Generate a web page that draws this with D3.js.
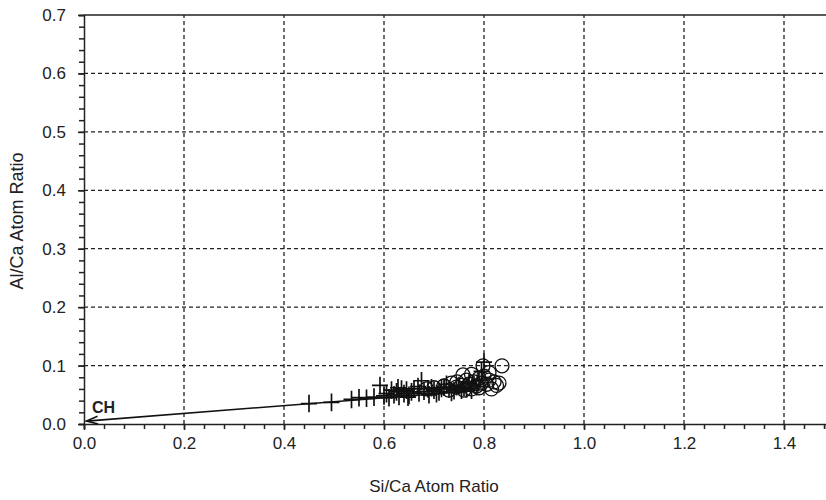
<!DOCTYPE html>
<html><head><meta charset="utf-8">
<script src="https://cdn.jsdelivr.net/npm/d3@7"></script>
<style>body{margin:0;background:#fff}svg{display:block}text{font-family:"Liberation Sans",Arial,sans-serif;fill:#222}</style>
</head><body><svg id="c" width="826" height="500"></svg>
<script>
const xTicks=[0,0.2,0.4,0.6,0.8,1.0,1.2,1.4];
const yTicks=[0,0.1,0.2,0.3,0.4,0.5,0.6,0.7];
const crossX=[0.45,0.495,0.535,0.55,0.565,0.58,0.592,0.60,0.61,0.62,0.625,0.63,0.64,0.645,0.65,0.655,0.66,0.67,0.675,0.68,0.69,0.695,0.70,0.71,0.72,0.73,0.74,0.75,0.76,0.77,0.78,0.79,0.80,0.795,0.765,0.785,0.635,0.605,0.615,0.725,0.628,0.648,0.668,0.688,0.705,0.715,0.735,0.755,0.745,0.775];
const crossY=[0.035,0.037,0.042,0.045,0.044,0.046,0.066,0.048,0.045,0.050,0.055,0.047,0.052,0.058,0.049,0.055,0.060,0.053,0.074,0.056,0.050,0.062,0.058,0.055,0.063,0.060,0.057,0.066,0.062,0.070,0.068,0.075,0.106,0.090,0.060,0.064,0.060,0.052,0.058,0.068,0.062,0.046,0.064,0.060,0.052,0.061,0.054,0.058,0.064,0.058];
const circX=[0.70,0.72,0.735,0.746,0.758,0.765,0.77,0.775,0.78,0.785,0.79,0.795,0.798,0.80,0.805,0.81,0.815,0.82,0.825,0.83,0.836,0.76,0.745,0.775,0.81,0.79,0.73,0.755,0.685];
const circY=[0.062,0.065,0.070,0.072,0.084,0.075,0.068,0.085,0.072,0.065,0.078,0.070,0.0995,0.082,0.068,0.075,0.060,0.072,0.066,0.070,0.0995,0.058,0.063,0.060,0.088,0.062,0.058,0.066,0.060];
const lineX=[0.005,0.78];
const lineY=[0.005,0.057];

const svg=d3.select("#c");
const x=d3.scaleLinear().domain([0,1.484]).range([84,826]);
const y=d3.scaleLinear().domain([0,0.7]).range([424,15]);
const FONT="Liberation Sans, Arial, sans-serif";

const g=svg.append("g");
g.selectAll(".vg").data(xTicks.filter(d=>d>0)).join("line")
 .attr("x1",d=>x(d)).attr("x2",d=>x(d)).attr("y1",y(0)).attr("y2",y(0.7))
 .attr("stroke","#222").attr("stroke-width",1.3).attr("stroke-dasharray","4,3");
g.selectAll(".hg").data(yTicks.filter(d=>d>0&&d<0.7)).join("line")
 .attr("x1",x(0)).attr("x2",826).attr("y1",d=>y(d)).attr("y2",d=>y(d))
 .attr("stroke","#222").attr("stroke-width",1.3).attr("stroke-dasharray","4,3");
svg.append("line").attr("x1",x(0)).attr("x2",826).attr("y1",y(0.7)).attr("y2",y(0.7)).attr("stroke","#222").attr("stroke-width",1.5);

const xMinor=d3.range(0,1.5,0.04);
const xa=svg.append("g").attr("transform",`translate(0,${y(0)})`)
 .call(d3.axisBottom(x).tickValues(xMinor).tickSize(5).tickFormat(""));
xa.select(".domain").attr("stroke","#222").attr("stroke-width",1.5);
xa.selectAll(".tick line").attr("stroke","#222").attr("stroke-width",1.5);
const xl=svg.append("g").attr("transform",`translate(0,${y(0)})`)
 .call(d3.axisBottom(x).tickValues(xTicks).tickSize(6).tickPadding(7).tickFormat(d3.format(".1f")));
xl.select(".domain").remove();
xl.selectAll(".tick line").attr("stroke","#222").attr("stroke-width",1.5);
xl.selectAll("text").style("font-size","17px").style("font-family",FONT).attr("fill","#222");

const yMinor=d3.range(0,0.7001,0.02);
const ya=svg.append("g").attr("transform",`translate(${x(0)},0)`)
 .call(d3.axisLeft(y).tickValues(yMinor).tickSize(5).tickFormat(""));
ya.select(".domain").attr("stroke","#222").attr("stroke-width",1.5);
ya.selectAll(".tick line").attr("stroke","#222").attr("stroke-width",1.5);
const yl=svg.append("g").attr("transform",`translate(${x(0)},0)`)
 .call(d3.axisLeft(y).tickValues(yTicks).tickSize(6).tickPadding(12).tickFormat(d3.format(".1f")));
yl.select(".domain").remove();
yl.selectAll(".tick line").attr("stroke","#222").attr("stroke-width",1.5);
yl.selectAll("text").style("font-size","17px").style("font-family",FONT).attr("fill","#222");

svg.append("text").attr("x",434).attr("y",492).attr("text-anchor","middle").style("font-size","17px").text("Si/Ca Atom Ratio");
svg.append("text").attr("transform","translate(23,221) rotate(-90)").attr("text-anchor","middle").style("font-size","18px").text("Al/Ca Atom Ratio");

const x0=x(lineX[0]),y0=y(lineY[0]),x1=x(lineX[1]),y1=y(lineY[1]);
svg.append("line").attr("x1",x0).attr("y1",y0).attr("x2",x1).attr("y2",y1).attr("stroke","#111").attr("stroke-width",1.6);
const ang=Math.atan2(y1-y0,x1-x0);
const ah=12, spread=0.33;
svg.append("path").attr("d",`M${x0+ah*Math.cos(ang-spread)},${y0+ah*Math.sin(ang-spread)} L${x0},${y0} L${x0+ah*Math.cos(ang+spread)},${y0+ah*Math.sin(ang+spread)}`)
 .attr("fill","none").attr("stroke","#111").attr("stroke-width",1.6);
svg.append("text").attr("x",x(0.016)).attr("y",y(0.019)).style("font-size","16px").attr("font-weight","bold").attr("fill","#111").text("CH");

svg.append("g").selectAll("circle").data(circX.map((d,i)=>[d,circY[i]])).join("circle")
 .attr("cx",d=>x(d[0])).attr("cy",d=>y(d[1])).attr("r",7)
 .attr("fill","none").attr("stroke","#111").attr("stroke-width",1.3);
const s=8;
svg.append("g").selectAll("path").data(crossX.map((d,i)=>[d,crossY[i]])).join("path")
 .attr("d",d=>{const cx=x(d[0]),cy=y(d[1]);return `M${cx-s},${cy}H${cx+s}M${cx},${cy-s*1.1}V${cy+s*1.1}`;})
 .attr("fill","none").attr("stroke","#111").attr("stroke-width",1.7);
</script></body></html>
